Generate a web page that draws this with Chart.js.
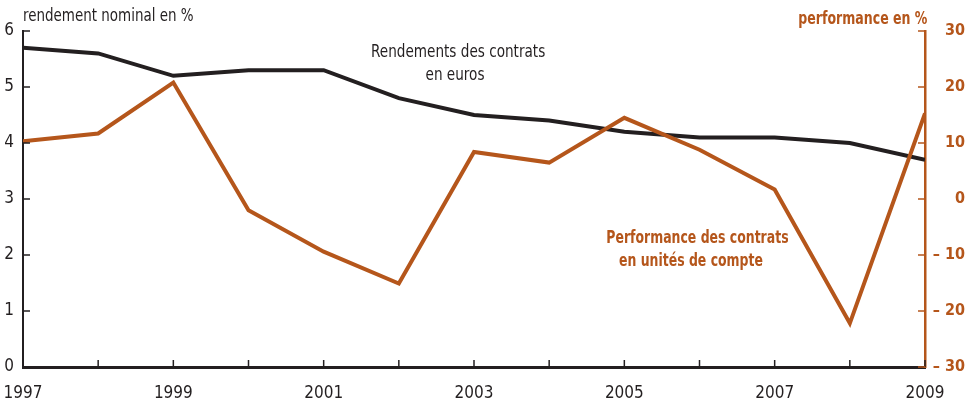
<!DOCTYPE html>
<html>
<head>
<meta charset="utf-8">
<script src="https://cdn.jsdelivr.net/npm/chart.js@4.4.0/dist/chart.umd.min.js"></script>
<style>
  html, body { margin: 0; padding: 0; background: #fff; }
  #wrap { position: relative; width: 972px; height: 402px; }
  canvas { position: absolute; left: 0; top: 0; }
  .lbl { position: absolute; white-space: nowrap; font-family: "Liberation Sans Narrow", "DejaVu Sans Condensed", sans-serif; line-height: 23px; }
  .dark { color: #231f20; }
  .orange { color: #b5561b; font-weight: bold; }
</style>
</head>
<body>
<div id="wrap">
  <canvas id="chart" width="972" height="402"></canvas>
  <div class="lbl dark" style="left:23px; top:4px; font-size:17px; transform:scaleX(0.88); transform-origin:left center;">rendement nominal en %</div>
  <div class="lbl orange" style="right:45px; top:7px; font-size:17px; transform:scaleX(0.82); transform-origin:right center;">performance en %</div>
  <div class="lbl dark" style="left:355px; top:39px; width:200px; text-align:center; font-size:18px; transform:scaleX(0.84); transform-origin:center;">Rendements des contrats<br>en euros</div>
  <div class="lbl orange" style="left:581px; top:225px; width:220px; text-align:center; font-size:18px; transform:scaleX(0.77); transform-origin:center;">Performance des contrats<br>en unités de compte</div>
</div>
<script>
const years = [1997, 1998, 1999, 2000, 2001, 2002, 2003, 2004, 2005, 2006, 2007, 2008, 2009];
const rendement = [5.7, 5.6, 5.2, 5.3, 5.3, 4.8, 4.5, 4.4, 4.2, 4.1, 4.1, 4.0, 3.7];
const performance = [10.3, 11.7, 20.8, -2.0, -9.4, -15.1, 8.4, 6.5, 14.5, 8.8, 1.7, -22.2, 15.3];
const yearLabels = [1997, 1999, 2001, 2003, 2005, 2007, 2009];

const DARK = '#231f20';
const ORANGE = '#b5561b';
const FONT = '"Liberation Sans Narrow", "DejaVu Sans Condensed", sans-serif';

// petits traits de graduation vers l'intérieur du graphique
const innerTicks = {
    id: 'innerTicks',
    afterDraw(chart) {
        const ctx = chart.ctx;
        const x = chart.scales.x, y = chart.scales.y, y2 = chart.scales.y2;
        const area = chart.chartArea;
        ctx.save();
        ctx.lineWidth = 1.5;
        ctx.strokeStyle = DARK;
        years.forEach(yr => {
            const px = x.getPixelForValue(yr);
            ctx.beginPath();
            ctx.moveTo(px, area.bottom);
            ctx.lineTo(px, area.bottom - 7);
            ctx.stroke();
        });
        for (let v = 0; v <= 6; v++) {
            const py = y.getPixelForValue(v);
            ctx.beginPath();
            ctx.moveTo(area.left, py);
            ctx.lineTo(area.left + 7, py);
            ctx.stroke();
        }
        ctx.strokeStyle = ORANGE;
        for (let v = -30; v <= 30; v += 10) {
            const py = y2.getPixelForValue(v);
            ctx.beginPath();
            ctx.moveTo(area.right, py);
            ctx.lineTo(area.right - 7, py);
            ctx.stroke();
        }
        ctx.restore();
    }
};

new Chart(document.getElementById('chart'), {
    type: 'line',
    data: {
        labels: years,
        datasets: [
            {
                label: 'Performance des contrats en unités de compte',
                data: years.map((yr, i) => ({ x: yr, y: performance[i] })),
                yAxisID: 'y2',
                borderColor: ORANGE,
                borderWidth: 4,
                pointRadius: 0,
                tension: 0,
                borderJoinStyle: 'miter'
            },
            {
                label: 'Rendements des contrats en euros',
                data: years.map((yr, i) => ({ x: yr, y: rendement[i] })),
                yAxisID: 'y',
                borderColor: DARK,
                borderWidth: 4,
                pointRadius: 0,
                tension: 0,
                borderJoinStyle: 'miter'
            }
        ]
    },
    options: {
        responsive: false,
        animation: false,
        layout: { autoPadding: false, padding: { top: 31, right: 7, left: 0, bottom: 0 } },
        plugins: { legend: { display: false }, tooltip: { enabled: false } },
        scales: {
            x: {
                type: 'linear',
                min: 1997,
                max: 2009,
                grid: { display: false, drawTicks: false },
                border: { display: true, color: DARK, width: 3 },
                afterFit: s => { s.height = 35; s.paddingLeft = 0; s.paddingRight = 0; },
                afterBuildTicks: s => { s.ticks = yearLabels.map(v => ({ value: v })); },
                ticks: {
                    autoSkip: false,
                    maxRotation: 0,
                    padding: 16,
                    color: DARK,
                    font: { family: FONT, size: 17 },
                    callback: v => String(v)
                }
            },
            y: {
                position: 'left',
                min: 0,
                max: 6,
                grid: { display: false, drawTicks: false },
                border: { display: true, color: DARK, width: 2 },
                afterFit: s => { s.width = 23; },
                ticks: {
                    stepSize: 1,
                    padding: 9,
                    color: DARK,
                    font: { family: FONT, size: 17 }
                }
            },
            y2: {
                position: 'right',
                min: -30,
                max: 30,
                grid: { display: false, drawTicks: false },
                border: { display: true, color: ORANGE, width: 2.5 },
                afterFit: s => { s.width = 40; },
                ticks: {
                    stepSize: 10,
                    crossAlign: 'far',
                    color: ORANGE,
                    font: { family: FONT, size: 16, weight: 'bold' },
                    callback: v => v < 0 ? '– ' + Math.abs(v) : String(v)
                }
            }
        }
    },
    plugins: [innerTicks]
});
</script>
</body>
</html>
